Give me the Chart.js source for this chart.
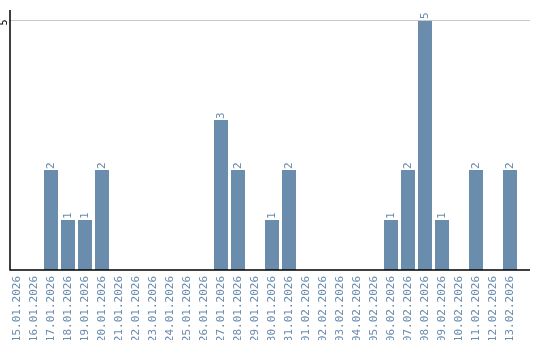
<!DOCTYPE html>
<html>
<head>
<meta charset="utf-8">
<script src="https://cdn.jsdelivr.net/npm/chart.js@4"></script>
<style>
html,body{margin:0;padding:0;background:#fff;}
#wrap{width:540px;height:340px;}
</style>
</head>
<body>
<div id="wrap"><canvas id="c" width="540" height="340"></canvas></div>
<script>
const categories = ["15.01.2026","16.01.2026","17.01.2026","18.01.2026","19.01.2026","20.01.2026","21.01.2026","22.01.2026","23.01.2026","24.01.2026","25.01.2026","26.01.2026","27.01.2026","28.01.2026","29.01.2026","30.01.2026","31.01.2026","01.02.2026","02.02.2026","03.02.2026","04.02.2026","05.02.2026","06.02.2026","07.02.2026","08.02.2026","09.02.2026","10.02.2026","11.02.2026","12.02.2026","13.02.2026"];
const counts = [0,0,2,1,1,2,0,0,0,0,0,0,3,2,0,1,2,0,0,0,0,0,1,2,5,1,0,2,0,2];
const yTicks = [5];

const BAR = '#6a8cad';
const TXT = '#6a8cad';
const FONT = '"DejaVu Sans Mono", monospace';

const axesPlugin = {
  id: 'axesPlugin',
  afterDatasetsDraw(chart) {
    const ctx = chart.ctx, a = chart.chartArea;
    const y = chart.scales.y;
    const left = a.left + 1.5, right = a.right + 11.5;
    ctx.save();
    yTicks.forEach(v => {
      const py = Math.round(y.getPixelForValue(v)) + 0.5;
      ctx.strokeStyle = '#c8c8c8'; ctx.lineWidth = 1;
      ctx.beginPath(); ctx.moveTo(left, py); ctx.lineTo(right, py); ctx.stroke();
      ctx.save();
      ctx.translate(4.5, py + 2);
      ctx.rotate(-Math.PI / 2);
      ctx.fillStyle = '#000'; ctx.font = '10px ' + FONT;
      ctx.textAlign = 'center'; ctx.textBaseline = 'middle';
      ctx.fillText(String(v), 0, 0);
      ctx.restore();
    });
    ctx.strokeStyle = '#000'; ctx.lineWidth = 1.5;
    ctx.beginPath();
    ctx.moveTo(left, a.top); ctx.lineTo(left, a.bottom);
    ctx.lineTo(right, a.bottom);
    ctx.stroke();
    const meta = chart.getDatasetMeta(0);
    ctx.fillStyle = TXT; ctx.font = '11px ' + FONT;
    ctx.textAlign = 'left'; ctx.textBaseline = 'middle';
    meta.data.forEach((bar, i) => {
      const v = counts[i];
      if (!v) return;
      ctx.save();
      ctx.translate(bar.x, bar.y - 1);
      ctx.rotate(-Math.PI / 2);
      ctx.fillText(String(v), 0, 0);
      ctx.restore();
    });
    ctx.restore();
  }
};

new Chart(document.getElementById('c'), {
  type: 'bar',
  data: {
    labels: categories,
    datasets: [{
      data: counts,
      backgroundColor: BAR,
      borderWidth: 0,
      categoryPercentage: 1,
      barPercentage: 14 / 17
    }]
  },
  options: {
    responsive: false,
    animation: false,
    devicePixelRatio: 1,
    layout: { padding: { left: 8.5, right: 21.5, top: 10, bottom: 0 } },
    plugins: { legend: { display: false }, tooltip: { enabled: false }, title: { display: false } },
    scales: {
      x: {
        grid: { display: false, drawTicks: false },
        border: { display: false },
        ticks: {
          color: TXT,
          font: { family: FONT, size: 11 },
          minRotation: 90, maxRotation: 90,
          autoSkip: false,
          padding: 6
        },
        afterFit(scale) { scale.height = 70; }
      },
      y: {
        display: false,
        min: 0, max: 5.2
      }
    }
  },
  plugins: [axesPlugin]
});
</script>
</body>
</html>
